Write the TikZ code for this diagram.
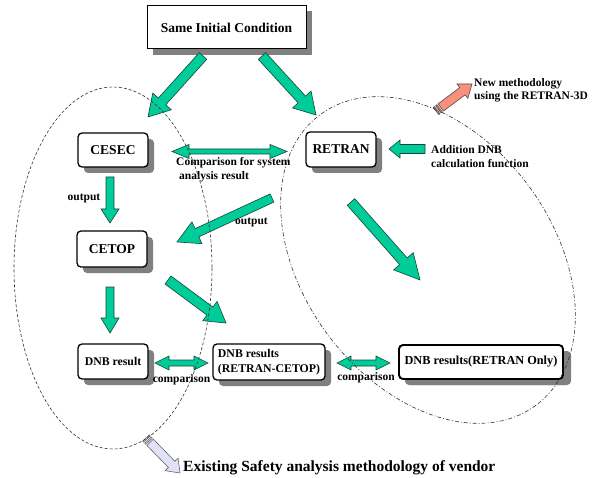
\documentclass[tikz,border=0pt]{standalone}
\usepackage{fontspec}
\setmainfont{Liberation Serif}
\usetikzlibrary{calc,shadows}
\definecolor{arrowgreen}{RGB}{0,204,153}
\definecolor{arrowedge}{RGB}{20,70,55}
\definecolor{salmonfill}{RGB}{250,145,125}
\definecolor{lavfill}{RGB}{225,225,248}
\definecolor{shadowgray}{RGB}{128,128,128}

\newcommand\blockarrow[6]{% style, A, B, half shaft, half head, head length
  \coordinate (bH) at ($(#3)!#6!(#2)$);
  \filldraw[#1] ($(#2)!#4!90:(#3)$) -- ($(bH)!#4!90:(#3)$) -- ($(bH)!#5!90:(#3)$) -- (#3)
    -- ($(bH)!#5!-90:(#3)$) -- ($(bH)!#4!-90:(#3)$) -- ($(#2)!#4!-90:(#3)$) -- cycle;}
\newcommand\dblarrow[6]{%
  \coordinate (bH) at ($(#3)!#6!(#2)$);
  \coordinate (bG) at ($(#2)!#6!(#3)$);
  \filldraw[#1] (#2) -- ($(bG)!#5!90:(#3)$) -- ($(bG)!#4!90:(#3)$) -- ($(bH)!#4!90:(#3)$)
    -- ($(bH)!#5!90:(#3)$) -- (#3) -- ($(bH)!#5!-90:(#3)$) -- ($(bH)!#4!-90:(#3)$)
    -- ($(bG)!#4!-90:(#3)$) -- ($(bG)!#5!-90:(#3)$) -- cycle;}
\newcommand\stripebar[6]{% style, A, B, half width, d1, d2
  \coordinate (sA) at ($(#2)!#5!(#3)$);
  \coordinate (sB) at ($(#2)!#6!(#3)$);
  \filldraw[#1] ($(sA)!#4!90:(#3)$) -- ($(sB)!#4!90:(#3)$) -- ($(sB)!#4!-90:(#3)$) -- ($(sA)!#4!-90:(#3)$) -- cycle;}

\tikzset{
  box/.style={draw=black, line width=1.3pt, fill=white, rounded corners=4pt,
    font=\fontsize{13.5}{16}\selectfont\bfseries, inner sep=0pt,
    drop shadow={shadow xshift=6pt, shadow yshift=-6pt, fill=shadowgray, opacity=1}},
  smallbox/.style={box, font=\fontsize{11.8}{14.5}\selectfont\bfseries},
  lbl/.style={font=\fontsize{11.5}{14}\selectfont\bfseries, inner sep=0pt, align=left},
  garrow/.style={fill=arrowgreen, draw=arrowedge, line width=0.6pt, line join=miter},
  sarrow/.style={fill=salmonfill, draw=black!70, line width=0.6pt, line join=miter},
  larrow/.style={fill=lavfill, draw=black!60, line width=0.6pt, line join=miter},
  leftgroup/.style={draw=black!80, line width=0.6pt, dash pattern=on 3pt off 2pt},
  rightgroup/.style={draw=black!80, line width=0.6pt, dash pattern=on 4pt off 2pt on 1pt off 2pt},
}

\begin{document}
\begin{tikzpicture}[x=1pt,y=-1pt]
\useasboundingbox[fill=white] (0,0) rectangle (599,478);

% boxes
\node[box, rounded corners=0pt, line width=1pt, minimum width=159pt, minimum height=43pt,
      drop shadow={shadow xshift=6pt, shadow yshift=-5pt, fill=shadowgray, opacity=1}]
      (init) at (226.5,27.5) {Same Initial Condition};
\node[box, minimum width=70pt, minimum height=34pt] (cesec) at (113,150) {CESEC};
\node[box, minimum width=70pt, minimum height=35pt] (retran) at (341,149.5) {RETRAN};
\node[box, minimum width=70pt, minimum height=36pt] (cetop) at (112,249) {CETOP};
\node[smallbox, minimum width=70pt, minimum height=35pt] (dnba) at (113,361.5) {DNB result};
\node[smallbox, minimum width=112pt, minimum height=36pt, align=left] (dnbb) at (269,362)
      {DNB results\\(RETRAN-CETOP)};
\node[smallbox, line width=1.9pt, minimum width=164pt, minimum height=34pt,
      font=\fontsize{12.3}{15}\selectfont\bfseries,
      drop shadow={shadow xshift=8pt, shadow yshift=-6pt, fill=shadowgray, opacity=1}]
      (dnbc) at (481,362) {DNB results(RETRAN Only)};

% arrow end points
\coordinate (a1s) at (203,56);  \coordinate (a1e) at (148,117);
\coordinate (a2s) at (262,56);  \coordinate (a2e) at (316,115);
\coordinate (a3s) at (110,177); \coordinate (a3e) at (110,223);
\coordinate (a4s) at (172,151.5); \coordinate (a4e) at (287,151.5);
\coordinate (a5s) at (425,149); \coordinate (a5e) at (389,149);
\coordinate (a6s) at (272,198); \coordinate (a6e) at (177,242);
\coordinate (a7s) at (110,287); \coordinate (a7e) at (110,333);
\coordinate (a8s) at (168,280); \coordinate (a8e) at (226,323);
\coordinate (a9s) at (351,202); \coordinate (a9e) at (420,280);
\coordinate (c1s) at (155,363); \coordinate (c1e) at (208,363);
\coordinate (c2s) at (337,363); \coordinate (c2e) at (390,363);
\coordinate (nms) at (436,111); \coordinate (nme) at (472,84);
\coordinate (nmt) at ($(nms)!6pt!(nme)$);
\coordinate (exs) at (146,438); \coordinate (exe) at (180,473);
\coordinate (ext) at ($(exs)!6pt!(exe)$);

\blockarrow{garrow}{a1s}{a1e}{5pt}{12.5pt}{21pt}
\blockarrow{garrow}{a2s}{a2e}{5pt}{12.5pt}{21pt}
\blockarrow{garrow}{a3s}{a3e}{4pt}{9pt}{14pt}
\dblarrow{garrow}{a4s}{a4e}{2.5pt}{7pt}{17pt}
\blockarrow{garrow}{a5s}{a5e}{4.5pt}{9pt}{11pt}
\blockarrow{garrow}{a6s}{a6e}{4.5pt}{12pt}{22pt}
\blockarrow{garrow}{a7s}{a7e}{4pt}{9pt}{15pt}
\blockarrow{garrow}{a8s}{a8e}{5pt}{12pt}{20pt}
\blockarrow{garrow}{a9s}{a9e}{5pt}{13pt}{25pt}
\dblarrow{garrow}{c1s}{c1e}{3pt}{7pt}{14pt}
\dblarrow{garrow}{c2s}{c2e}{3pt}{7pt}{14pt}

\stripebar{sarrow}{nms}{nme}{4.5pt}{0pt}{1.5pt}
\stripebar{sarrow}{nms}{nme}{4.5pt}{3pt}{4.5pt}
\blockarrow{sarrow}{nmt}{nme}{4.5pt}{9pt}{12pt}
\stripebar{larrow}{exs}{exe}{4.5pt}{0pt}{1.5pt}
\stripebar{larrow}{exs}{exe}{4.5pt}{3pt}{4.5pt}
\blockarrow{larrow}{ext}{exe}{4.5pt}{9pt}{12pt}

% labels
\node[lbl] (outl) at (84,198) {output};
\node[lbl, anchor=west] (cmpsys) at (176,170) {Comparison for system\\\hspace{3pt}analysis result};
\node[lbl] (outr) at (251.5,222) {output};
\node[lbl, anchor=west] (adddnb) at (431,157) {Addition DNB\\calculation function};
\node[lbl, anchor=west, font=\fontsize{11.5}{13}\selectfont\bfseries] (newm) at (474,90.5)
      {New methodology\\using the RETRAN-3D};
\node[lbl] (cmpa) at (181.5,380) {comparison};
\node[lbl] (cmpb) at (366,378) {comparison};
\node[lbl, anchor=west, font=\fontsize{15.5}{18}\selectfont\bfseries] (exist) at (183,468)
      {Existing Safety analysis methodology of vendor};

% group outlines
\draw[leftgroup] (113,268) ellipse [x radius=99, y radius=181];
\draw[rightgroup, rotate around={-53.4:(428,260)}] (428,260) ellipse [x radius=181, y radius=125];
\end{tikzpicture}
\end{document}
